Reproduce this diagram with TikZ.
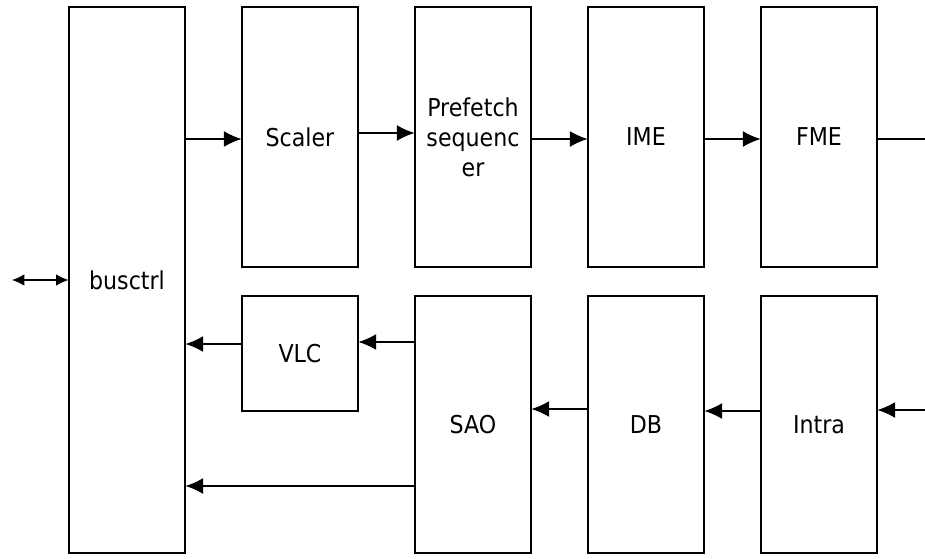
\documentclass[tikz,border=0pt]{standalone}
\usepackage{fontspec}
\setmainfont{DejaVu Sans Condensed}
\usepackage{tikz}
\usetikzlibrary{shapes,arrows,arrows.meta}
\tikzset{
 blk/.style={draw,line width=0.6pt,minimum width=2.32cm,align=center,inner sep=0pt,font=\fontsize{14}{17}\selectfont},
 arr/.style={-{Latex[length=10pt,width=9pt]},line width=0.6pt},
 ln/.style={line width=0.6pt}
}
\begin{document}
\begin{tikzpicture}
\useasboundingbox (0,0) rectangle (18.5,-11.16);

\node[blk,minimum height=10.92cm] (busctrl) at (2.54,-5.6) {busctrl};
\node[blk,minimum height=5.2cm] (scaler) at (6,-2.74) {Scaler};
\node[blk,minimum height=5.2cm] (prefetch) at (9.46,-2.74) {Prefetch\\sequenc\\er};
\node[blk,minimum height=5.2cm] (ime) at (12.92,-2.74) {IME};
\node[blk,minimum height=5.2cm] (fme) at (16.38,-2.74) {FME};
\node[blk,minimum height=2.3cm] (vlc) at (6,-7.07) {VLC};
\node[blk,minimum height=5.14cm] (sao) at (9.46,-8.49) {SAO};
\node[blk,minimum height=5.14cm] (db) at (12.92,-8.49) {DB};
\node[blk,minimum height=5.14cm] (intra) at (16.38,-8.49) {Intra};

\coordinate (ext) at (0.24,-5.6);
\coordinate (outR) at (18.5,-2.78);
\coordinate (inR) at (18.5,-8.2);

\draw [{Latex[length=7pt,width=6.5pt]}-{Latex[length=7pt,width=6.5pt]},line width=0.6pt](ext) -- (busctrl.west);
\draw [arr](busctrl.east |- 0,-2.78) -- (scaler.west |- 0,-2.78);
\draw [arr](scaler.east |- 0,-2.66) -- (prefetch.west |- 0,-2.66);
\draw [arr](prefetch.east |- 0,-2.78) -- (ime.west |- 0,-2.78);
\draw [arr](ime.east |- 0,-2.78) -- (fme.west |- 0,-2.78);
\draw [ln](fme.east |- outR) -- (outR);
\draw [arr](inR) -- (intra.east |- inR);
\draw [arr](intra.west |- 0,-8.22) -- (db.east |- 0,-8.22);
\draw [arr](db.west |- 0,-8.18) -- (sao.east |- 0,-8.18);
\draw [arr](sao.west |- 0,-6.84) -- (vlc.east |- 0,-6.84);
\draw [arr](vlc.west |- 0,-6.88) -- (busctrl.east |- 0,-6.88);
\draw [arr](sao.west |- 0,-9.72) -- (busctrl.east |- 0,-9.72);
\end{tikzpicture}
\end{document}
